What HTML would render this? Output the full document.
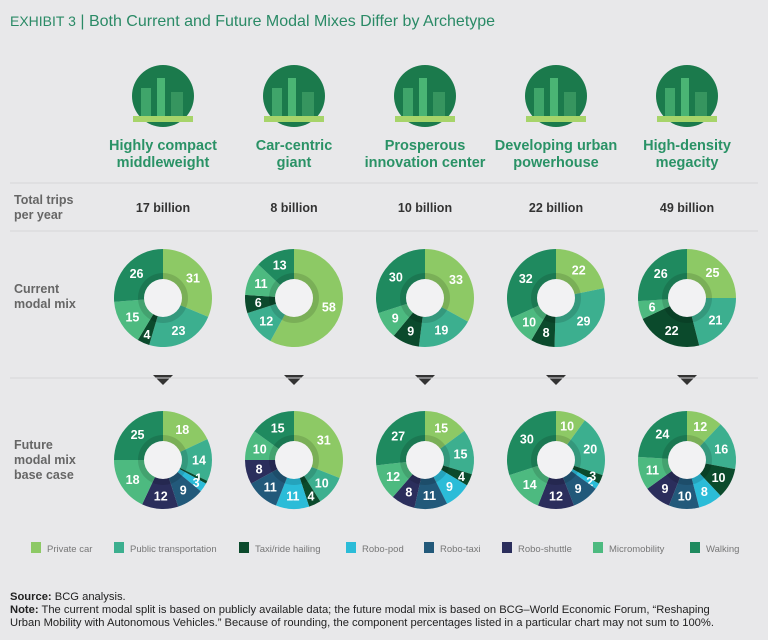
<!DOCTYPE html>
<html><head><meta charset="utf-8"><style>
body{margin:0;background:#e8e8ea;font-family:"Liberation Sans",sans-serif;}
svg{display:block}
</style></head><body>
<svg width="768" height="640" viewBox="0 0 768 640" xmlns="http://www.w3.org/2000/svg" id="chart">
<rect width="768" height="640" fill="#e8e8ea"/>
<text x="10" y="26" font-size="16" fill="#2a8a66"><tspan font-size="14">EXHIBIT 3</tspan> | Both Current and Future Modal Mixes Differ by Archetype</text>
<g id="heads"></g>
<line x1="10" y1="183" x2="758" y2="183" stroke="#d6d6d8"/>
<line x1="10" y1="231" x2="758" y2="231" stroke="#d6d6d8"/>
<line x1="10" y1="378" x2="758" y2="378" stroke="#d6d6d8"/>
<text font-size="12.5" font-weight="bold" fill="#666"><tspan x="14" y="204">Total trips</tspan><tspan x="14" y="219">per year</tspan></text>
<text font-size="12.5" font-weight="bold" fill="#666"><tspan x="14" y="293">Current</tspan><tspan x="14" y="308">modal mix</tspan></text>
<text font-size="12.5" font-weight="bold" fill="#666"><tspan x="14" y="449">Future</tspan><tspan x="14" y="464">modal mix</tspan><tspan x="14" y="479">base case</tspan></text>
<g id="donuts"></g>
<g id="legend"></g>
<text font-size="11.2" fill="#222"><tspan x="10" y="600"><tspan font-weight="bold">Source:</tspan> BCG analysis.</tspan><tspan x="10" y="613"><tspan font-weight="bold">Note:</tspan> The current modal split is based on publicly available data; the future modal mix is based on BCG–World Economic Forum, “Reshaping</tspan><tspan x="10" y="626">Urban Mobility with Autonomous Vehicles.” Because of rounding, the component percentages listed in a particular chart may not sum to 100%.</tspan></text>
</svg>
<script>
const archetypes=[["Highly compact","middleweight"],["Car-centric","giant"],["Prosperous","innovation center"],["Developing urban","powerhouse"],["High-density","megacity"]];
const trips=["17 billion","8 billion","10 billion","22 billion","49 billion"];
const modes=["Private car","Public transportation","Taxi/ride hailing","Robo-pod","Robo-taxi","Robo-shuttle","Micromobility","Walking"];
const colors=["#8dc965","#3caf8f","#0b4a2c","#2bbcd8","#22597a","#2b2e5c","#4dba80","#1f8a5f"];
const current=[[31,23,4,0,0,0,15,26],[58,12,6,0,0,0,11,13],[33,19,9,0,0,0,9,30],[22,29,8,0,0,0,10,32],[25,21,22,0,0,0,6,26]];
const future=[[18,14,1,3,9,12,18,25],[31,10,4,11,11,8,10,15],[15,15,4,9,11,8,12,27],[10,20,3,2,9,12,14,30],[12,16,10,8,10,9,11,24]];
const NS="http://www.w3.org/2000/svg";
const colX=i=>163+i*131;
function mk(tag,attrs,parent){const e=document.createElementNS(NS,tag);for(const k in attrs)e.setAttribute(k,attrs[k]);parent.appendChild(e);return e;}
const heads=document.getElementById('heads');
archetypes.forEach((a,i)=>{
  const cx=colX(i);
  const ic=mk('ellipse',{cx:cx,cy:96,rx:31,ry:31,fill:'#1b7a4c'},heads);
  
  
  mk('rect',{x:cx-22,y:88,width:10,height:30,fill:'#3fa56a'},heads);
  mk('rect',{x:cx-6,y:78,width:8,height:40,fill:'#4ab574'},heads);
  mk('rect',{x:cx+8,y:92,width:12,height:26,fill:'#36955f'},heads);
  mk('rect',{x:cx-30,y:116,width:60,height:6,fill:'#a7d46a'},heads);
  const t=mk('text',{'text-anchor':'middle','font-size':'14.5','font-weight':'bold',fill:'#2a9266'},heads);
  
  
  a.forEach((l,j)=>{const s=mk('tspan',{x:cx,y:150+j*17},t);s.textContent=l;});
  const tr=mk('text',{x:cx,y:212,'text-anchor':'middle','font-size':'12.5','font-weight':'bold',fill:'#333'},heads);
  
  
  tr.textContent=trips[i];
  const tri=mk('polygon',{points:`${cx-10},375 ${cx+10},375 ${cx},385`,fill:'#333'},heads);
  
  
});
const dg=document.getElementById('donuts');
function donut(vals,cx,cy,name){
  const g=mk('g',{},dg);
  
  
  const R=49,r=19,tot=vals.reduce((a,b)=>a+b,0);let acc=0;
  vals.forEach((v,k)=>{
    if(!v)return;
    const a0=acc/tot*2*Math.PI,a1=(acc+v)/tot*2*Math.PI;acc+=v;
    const p=(a,rr)=>[cx+rr*Math.sin(a),cy-rr*Math.cos(a)];
    const [x0,y0]=p(a0,R),[x1,y1]=p(a1,R),large=(a1-a0)>Math.PI?1:0;
    const s=mk('path',{d:`M${cx},${cy}L${x0},${y0}A${R},${R} 0 ${large} 1 ${x1},${y1}Z`,fill:colors[k]},g);
    
    
    const am=(a0+a1)/2,[lx,ly]=p(am,v<5?40:36);
    const t=mk('text',{x:lx,y:ly+4.5,'text-anchor':'middle','font-size':'12.5','font-weight':'bold',fill:'#fff'},g);
    
    
    t.textContent=v;
  });
  mk('circle',{cx:cx,cy:cy,r:25,fill:'#000','fill-opacity':0.13},g);
  mk('circle',{cx:cx,cy:cy,r:r,fill:'#f2f2f3'},g);
}
current.forEach((v,i)=>donut(v,colX(i),298,'current-donut'));
future.forEach((v,i)=>donut(v,colX(i),460,'future-donut'));
const lg=document.getElementById('legend');
modes.forEach((m,k)=>{
  const g=mk('g',{},lg);
  
  
  const X=[31,114,239,346,424,502,593,690][k];
  mk('rect',{x:X,y:542,width:10,height:11,fill:colors[k]},g);
  const t=mk('text',{x:X+16,y:552,'font-size':'9.5',fill:'#777'},g);
  t.textContent=m;
});
</script>
</body></html>
